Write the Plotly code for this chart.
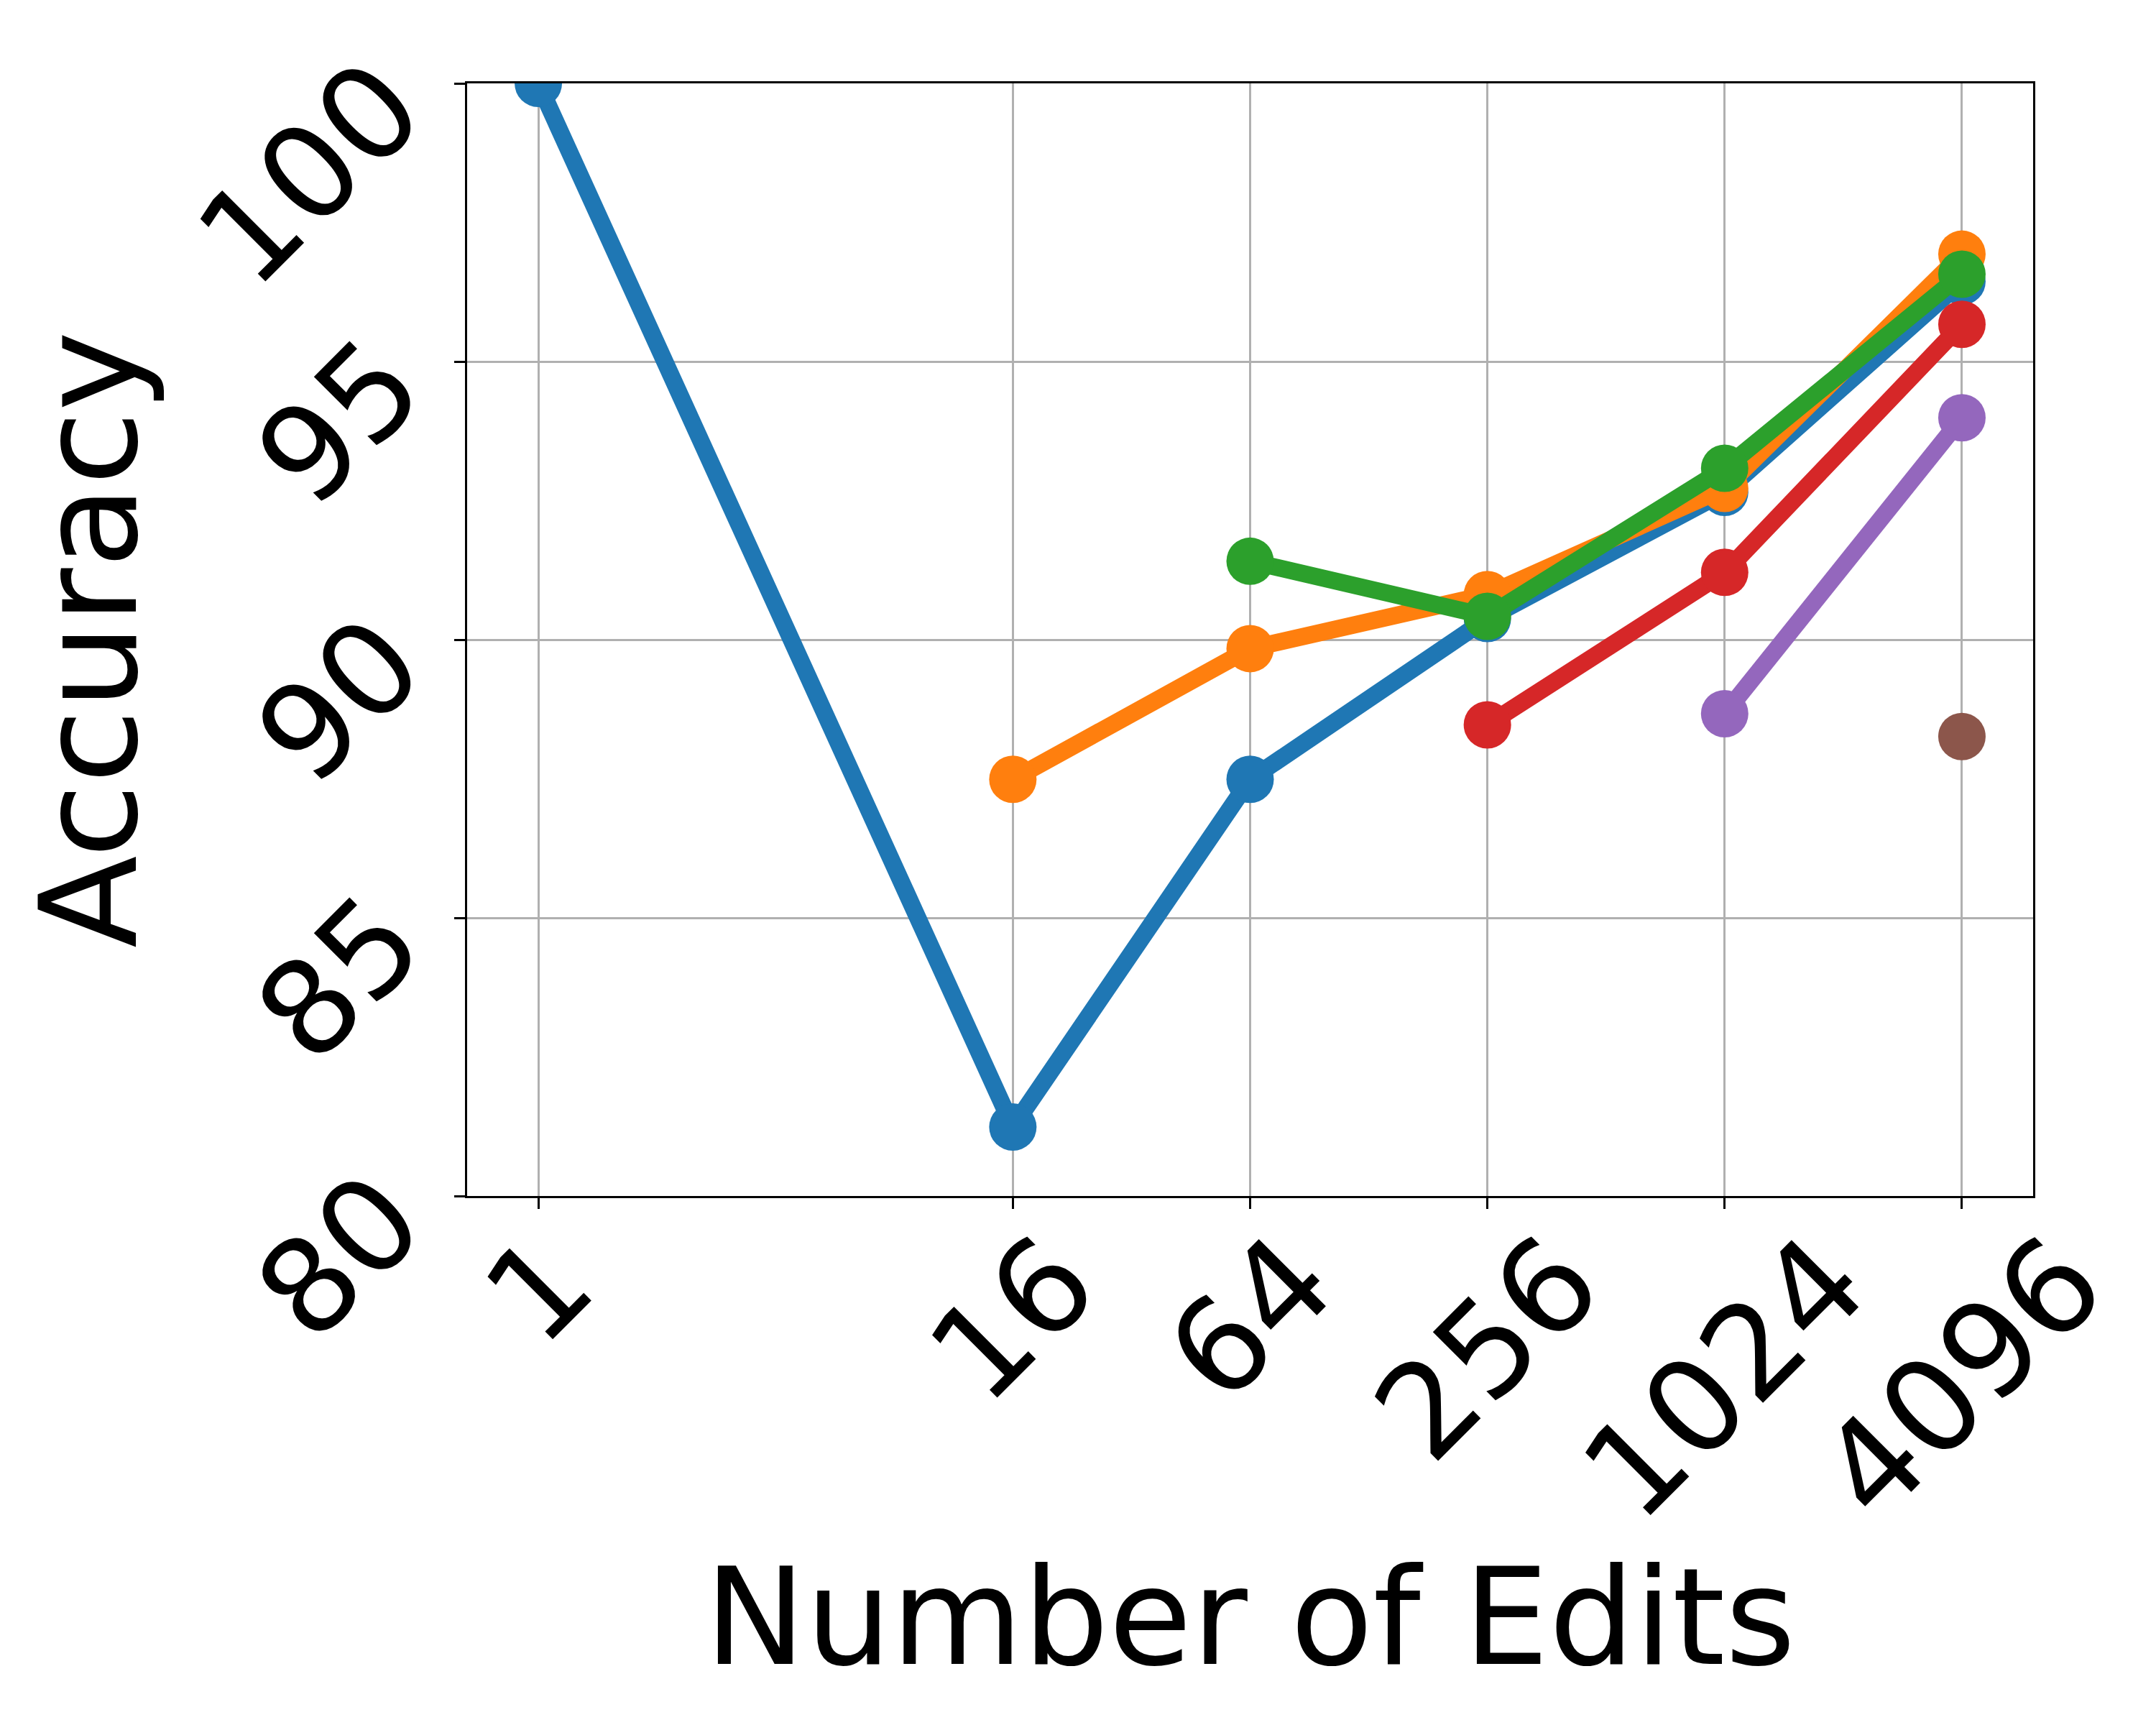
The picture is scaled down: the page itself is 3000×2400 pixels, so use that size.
import math
import plotly.graph_objects as go

edits = [1, 16, 64, 256, 1024, 4096]
tick_labels = ["1", "16", "64", "256", "1024", "4096"]

s1_x = [1, 16, 64, 256, 1024, 4096]
s1_y = [100.0, 81.24, 87.49, 90.38, 92.65, 96.44]
s2_x = [16, 64, 256, 1024, 4096]
s2_y = [87.49, 89.84, 90.81, 92.72, 96.93]
s3_x = [64, 256, 1024, 4096]
s3_y = [91.41, 90.42, 93.08, 96.57]
s4_x = [256, 1024, 4096]
s4_y = [88.47, 91.21, 95.67]
s5_x = [1024, 4096]
s5_y = [88.67, 93.99]
s6_x = [4096]
s6_y = [88.26]

y_ticks = [80, 85, 90, 95, 100]

colors = ["#1f77b4", "#ff7f0e", "#2ca02c", "#d62728", "#9467bd", "#8c564b"]
series = [(s1_x, s1_y), (s2_x, s2_y), (s3_x, s3_y), (s4_x, s4_y), (s5_x, s5_y), (s6_x, s6_y)]

FONT = "DejaVu Sans"
TICK_SIZE = 181
TITLE_SIZE = 188

fig = go.Figure()
for (xs, ys), c in zip(series, colors):
    fig.add_trace(go.Scatter(
        x=xs, y=ys, mode="lines+markers",
        line=dict(color=c, width=24),
        marker=dict(color=c, size=66),
        showlegend=False,
    ))

lo = -0.6 * math.log10(2)
hi = 12.6 * math.log10(2)

fig.update_xaxes(
    type="log", range=[lo, hi],
    tickvals=edits, ticktext=tick_labels, showticklabels=False,
    ticks="outside", ticklen=15, tickwidth=3, tickcolor="black",
    showgrid=True, gridcolor="#b0b0b0", gridwidth=2.7,
    showline=True, linecolor="black", linewidth=3, mirror=True,
    zeroline=False,
    title=dict(text="Number of Edits", font=dict(family=FONT, size=TITLE_SIZE, color="black"), standoff=503),
)
fig.update_yaxes(
    range=[80, 100], tickvals=y_ticks, ticktext=[str(v) for v in y_ticks],
    tickangle=-45, tickfont=dict(family=FONT, size=TICK_SIZE, color="black"),
    ticklabelstandoff=62, ticklabelshift=10,
    ticks="outside", ticklen=15, tickwidth=3, tickcolor="black",
    showgrid=True, gridcolor="#b0b0b0", gridwidth=2.7,
    showline=True, linecolor="black", linewidth=3, mirror=True,
    zeroline=False,
)

fig.add_annotation(
    x=0, y=0.5, xref="paper", yref="paper",
    text="Accuracy", textangle=-90, showarrow=False,
    xanchor="center", yanchor="middle", xshift=-527,
    font=dict(family=FONT, size=TITLE_SIZE, color="black"),
)

for v, t in zip(edits, tick_labels):
    fig.add_annotation(
        x=math.log10(v), y=0, xref="x", yref="paper",
        text=t, textangle=-45, showarrow=False,
        xanchor="center", yanchor="top", yshift=-12,
        font=dict(family=FONT, size=TICK_SIZE, color="black"),
    )

fig.update_layout(
    width=3000, height=2400,
    margin=dict(l=642, r=179, t=108, b=744, autoexpand=False),
    paper_bgcolor="white", plot_bgcolor="white",
    font=dict(family=FONT, color="black"),
)

fig.write_html("out.html")
